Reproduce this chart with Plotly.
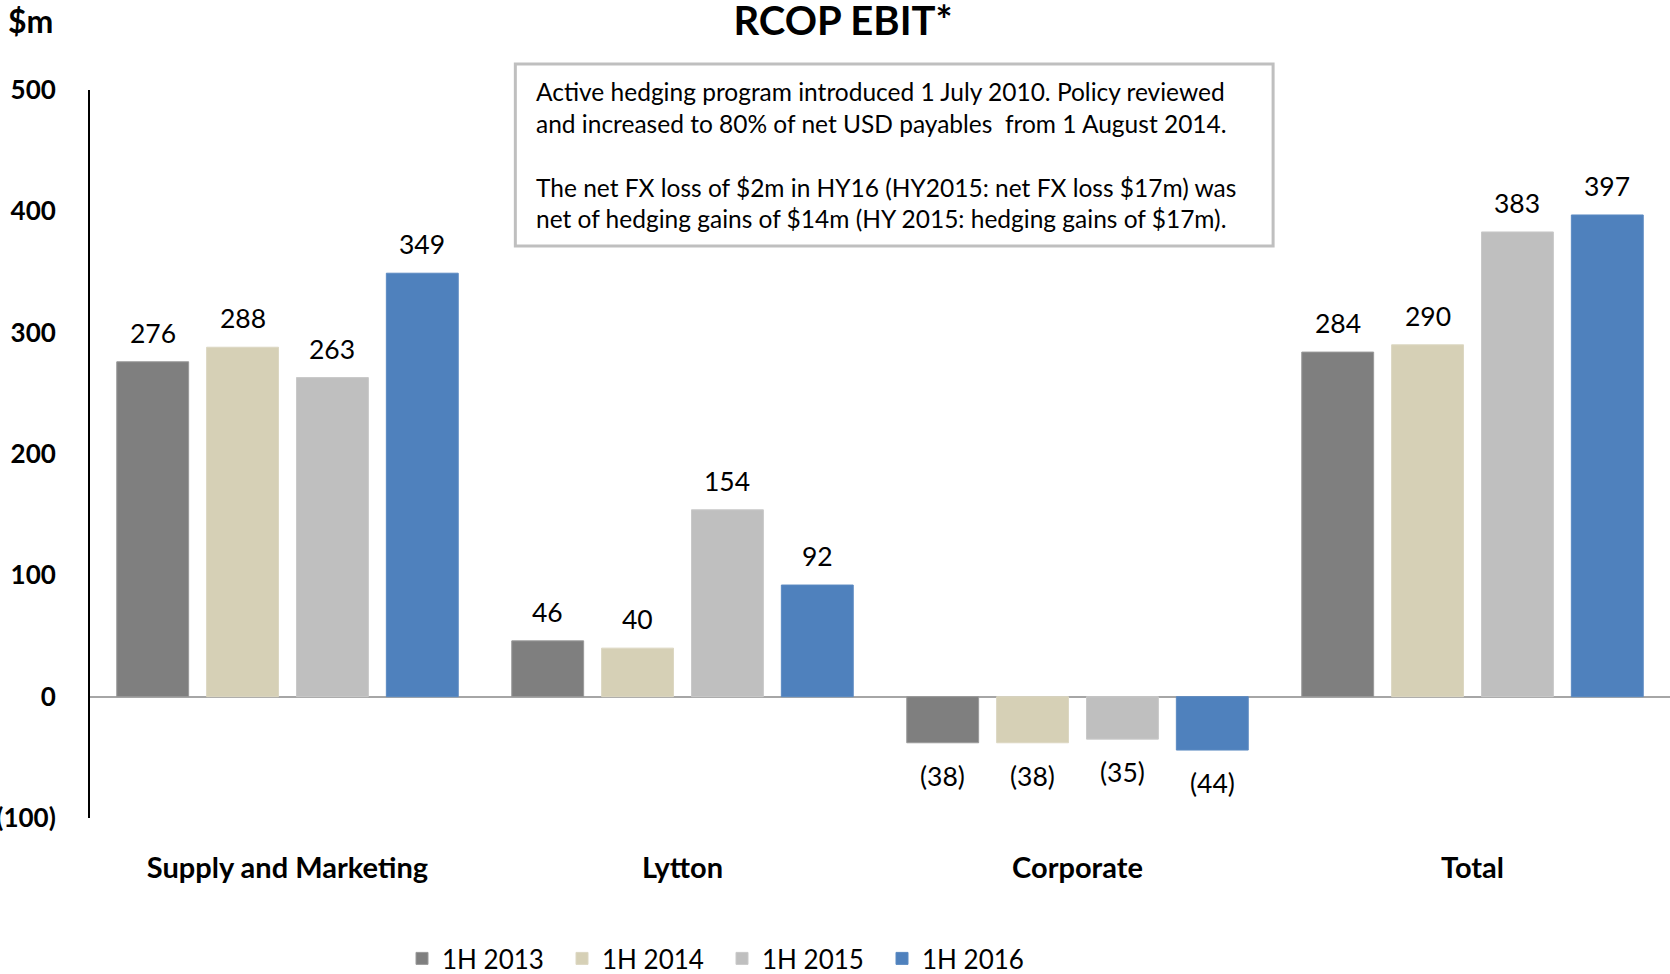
import plotly.graph_objects as go

CATEGORIES = ["Supply and Marketing", "Lytton", "Corporate", "Total"]
SERIES = ["1H 2013", "1H 2014", "1H 2015", "1H 2016"]
Y_2013 = [276, 46, -38, 284]
Y_2014 = [288, 40, -38, 290]
Y_2015 = [263, 154, -35, 383]
Y_2016 = [349, 92, -44, 397]
COLORS = ["#7F7F7F", "#D6D0B6", "#BFBFBF", "#4F81BD"]
LINE_COLORS = ["#9A9A9A", "#DCD7C2", "#C9C9C9", "#5B8AC2"]
Y_TICKS = [-100, 0, 100, 200, 300, 400, 500]
Y_TICKTEXT = ["(100)", "0", "100", "200", "300", "400", "500"]
NOTE = (
    "Active hedging program introduced 1 July 2010. Policy reviewed<br>"
    "and increased to 80% of net USD payables  from 1 August 2014.<br><br>"
    "The net FX loss of $2m in HY16 (HY2015: net FX loss $17m) was<br>"
    "net of hedging gains of $14m (HY 2015: hedging gains of $17m)."
)

FONT = "Lato, 'Open Sans', sans-serif"
BARGAP = 0.09
BARGROUPGAP = 0.2


def fmt(v):
    return f"({abs(v)})" if v < 0 else f"{v}"


fig = go.Figure()
all_values = [Y_2013, Y_2014, Y_2015, Y_2016]
xs = list(range(len(CATEGORIES)))
for name, vals, col, lcol in zip(SERIES, all_values, COLORS, LINE_COLORS):
    fig.add_trace(
        go.Bar(
            name=name,
            x=xs,
            y=vals,
            marker=dict(color=col, line=dict(color=lcol, width=1)),
            hoverinfo="x+y",
        )
    )

# data labels, placed over each grouped bar
slot = (1 - BARGAP) / len(SERIES)
annotations = []
for i, vals in enumerate(all_values):
    off = (i - (len(SERIES) - 1) / 2) * slot
    for x, v in zip(xs, vals):
        annotations.append(
            dict(
                x=x + off,
                y=v,
                xref="x",
                yref="y",
                text=fmt(v),
                showarrow=False,
                yanchor="middle",
                yshift=29 if v >= 0 else -33,
                font=dict(family=FONT, size=26.5, color="#000000"),
            )
        )

# note box
annotations.append(
    dict(
        x=0.2813,
        y=0.9107,
        xref="paper",
        yref="paper",
        text=NOTE,
        showarrow=False,
        align="left",
        xanchor="left",
        yanchor="middle",
        font=dict(family=FONT, size=24.5, color="#000000"),
    )
)
annotations.append(
    dict(
        x=-0.0533,
        y=1.0948,
        xref="paper",
        yref="paper",
        text="$m",
        showarrow=False,
        xanchor="left",
        yanchor="middle",
        font=dict(family=FONT, size=32, color="#000000", weight="bold"),
    )
)

fig.add_shape(
    type="rect",
    xref="paper",
    yref="paper",
    x0=0.2692,
    x1=0.7488,
    y0=0.7857,
    y1=1.0357,
    line=dict(color="#BFBFBF", width=3),
    fillcolor="#FFFFFF",
    layer="above",
)

fig.update_layout(
    width=1670,
    height=974,
    margin=dict(l=89.5, r=0, t=90, b=156, autoexpand=False),
    paper_bgcolor="#FFFFFF",
    plot_bgcolor="#FFFFFF",
    barmode="group",
    bargap=BARGAP,
    bargroupgap=BARGROUPGAP,
    title=dict(
        text="RCOP EBIT*",
        x=0.5048,
        xanchor="center",
        y=0.978,
        yanchor="middle",
        font=dict(family=FONT, size=40, color="#000000", weight="bold"),
    ),
    font=dict(family=FONT, color="#000000"),
    showlegend=True,
    legend=dict(
        orientation="h",
        x=0.400,
        xanchor="center",
        y=-0.193,
        yanchor="middle",
        font=dict(family=FONT, size=26, color="#000000"),
        entrywidth=115,
        entrywidthmode="pixels",
        itemclick=False,
    ),
    annotations=annotations,
)
fig.update_xaxes(
    range=[-0.5, 3.5],
    tickvals=xs,
    ticktext=CATEGORIES,
    showgrid=False,
    showline=False,
    zeroline=False,
    ticks="",
    automargin=False,
    ticklabelstandoff=30,
    tickfont=dict(family=FONT, size=29, color="#000000", weight="bold"),
)
fig.update_yaxes(
    range=[-100, 500],
    tickvals=Y_TICKS,
    ticktext=Y_TICKTEXT,
    showgrid=False,
    showline=True,
    linecolor="#000000",
    linewidth=2,
    zeroline=True,
    zerolinecolor="#A6A6A6",
    zerolinewidth=2,
    ticks="",
    automargin=False,
    ticklabelstandoff=27,
    tickfont=dict(family=FONT, size=26, color="#000000", weight="bold"),
)

# page body has a default 8px margin; drop it so the figure sits at the window corner
fig.write_html(
    "out.html",
    config={"displayModeBar": False},
    post_script="document.body.style.margin = '0';",
)
